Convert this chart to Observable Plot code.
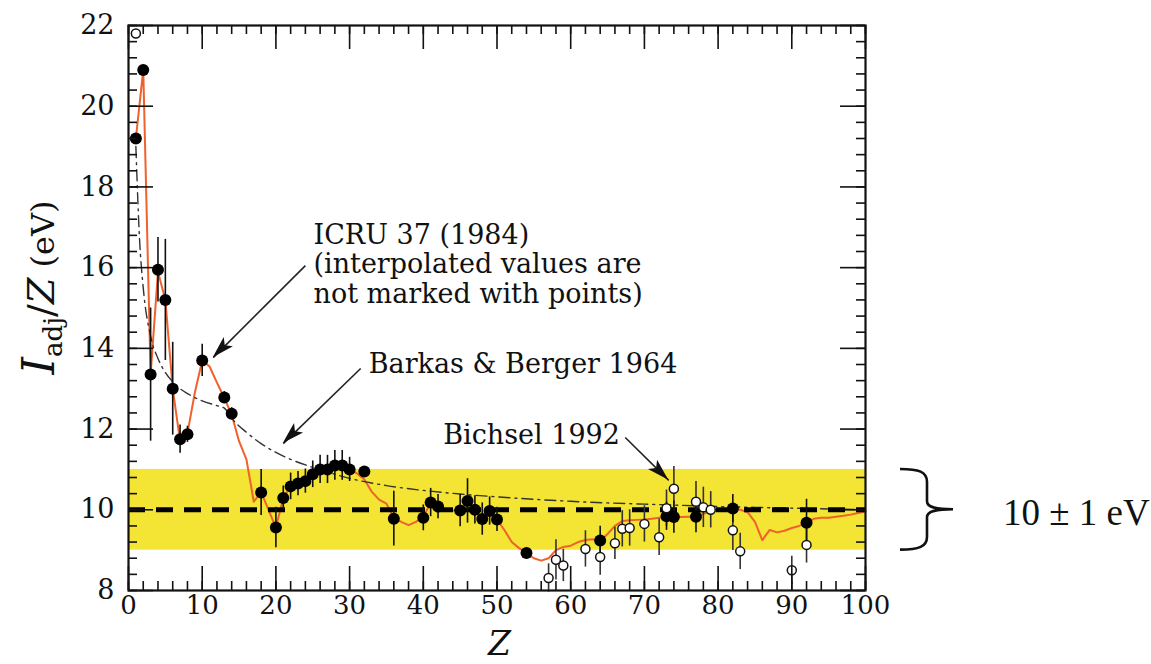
<!DOCTYPE html>
<html><head><meta charset="utf-8">
<script src="https://cdn.jsdelivr.net/npm/d3@7"></script>
<script src="https://cdn.jsdelivr.net/npm/@observablehq/plot@0.6"></script>
<style>html,body{margin:0;padding:0;background:#fff;} svg{display:block}</style>
</head><body><div id="chart"></div>
<script>
// ICRU 37 (1984) adopted I/Z curve
const icruZ = [1,2,3,4,5,6,7,8,9,10,11,12,13,14,15,16,17,18,19,20,21,22,23,24,25,26,27,28,29,30,31,32,33,34,35,36,37,38,39,40,41,42,43,44,45,46,47,48,49,50,51,52,53,54,55,56,57,58,59,60,61,62,63,64,65,66,67,68,69,70,71,72,73,74,75,76,77,78,79,80,81,82,83,84,85,86,87,88,89,90,91,92,93,94,95,96,97,98,99,100];
const icruI = [19.2,20.9,13.35,15.9,15.2,13.0,11.7,11.9,12.9,13.7,13.55,13.15,12.77,12.36,11.7,11.25,10.2,10.44,10.0,9.56,10.29,10.59,10.65,10.71,10.88,11.0,11.0,11.1,11.1,11.0,10.9,10.75,10.45,10.25,10.15,9.8,9.7,9.62,9.7,9.83,10.17,10.1,9.98,9.98,9.98,10.2,10.0,9.77,9.96,9.76,9.5,9.2,9.05,8.93,8.8,8.74,8.8,9.0,9.08,9.11,9.2,9.25,9.27,9.23,9.4,9.6,9.72,9.74,9.75,9.76,9.78,9.8,9.84,9.82,9.82,9.83,9.83,9.9,9.95,9.98,10.0,10.04,10.0,9.94,9.7,9.25,9.5,9.44,9.48,9.55,9.6,9.67,9.78,9.8,9.8,9.83,9.85,9.88,9.92,9.96];
// Barkas & Berger 1964 (dash-dot)
const bbZ = [1,1.5,2,3,4,5,6,7,8,10,12,13,14,16,18,20,22,25,28,30,35,40,45,50,55,60,65,70,75,80,85,90,95,100];
const bbI = [19.0,16.7,15.5,14.3,13.75,13.4,13.17,13.0,12.88,12.7,12.58,12.52,12.27,11.92,11.64,11.42,11.25,11.05,10.88,10.78,10.6,10.48,10.39,10.32,10.26,10.21,10.17,10.14,10.11,10.08,10.06,10.04,10.02,10.0];
// measured values (filled points)
const measZ =   [1,2,3,4,5,6,7,8,10,13,14,18,20,21,22,23,24,25,26,27,28,29,30,32,36,40,41,42,45,46,47,48,49,50,54,64,73,74,77,82,92];
const measI =   [19.2,20.9,13.35,15.95,15.2,13.0,11.75,11.87,13.7,12.78,12.38,10.43,9.56,10.29,10.58,10.65,10.71,10.88,11.0,11.0,11.1,11.1,11.0,10.95,9.78,9.8,10.18,10.08,9.98,10.22,10.0,9.77,9.97,9.76,8.93,9.24,9.84,9.82,9.83,10.03,9.68];
const measErr = [0,0,1.65,0.8,1.5,1.15,0.35,0.2,0.4,0.15,0.15,0.57,0.5,0.3,0.33,0.3,0.3,0.33,0.35,0.35,0.37,0.37,0.3,0,0.68,0.32,0.35,0.3,0.4,0.55,0.35,0.4,0.35,0.3,0,0.35,0.35,0.4,0.4,0.35,0.58];
// Bichsel 1992 (open points)
const bichZ =   [1,57,58,59,62,64,66,67,68,70,72,73,74,77,78,79,82,83,90,92];
const bichI =   [21.8,8.31,8.76,8.62,9.03,8.83,9.17,9.53,9.55,9.65,9.32,10.04,10.52,10.2,10.06,10.0,9.49,8.97,8.5,9.13];
const bichErr = [0,0.35,0.5,0.4,0.45,0.45,0.4,0.45,0.45,0.45,0.45,0.45,0.55,0.5,0.5,0.45,0.5,0.45,0.35,0.45];
// band 10 ± 1 eV
const bandLo = 9, bandHi = 11, bandMid = 10;
// ticks
const xTickLabels = [0,10,20,30,40,50,60,70,80,90,100];
const yTickLabels = [8,10,12,14,16,18,20,22];
const xMinor = d3.range(0, 101, 2);
const yMinor = d3.range(0, 36).map(k => 8 + 0.4 * k);
// annotations (data units)
const notes = [
  {z: 25.1, i: 17.12, text: "ICRU 37 (1984)\n(interpolated values are\nnot marked with points)"},
  {z: 32.6, i: 13.9, text: "Barkas & Berger 1964"},
  {z: 42.7, i: 12.16, text: "Bichsel 1992"}
];
const arrows = [
  {z1: 24.0, i1: 16.05, z2: 11.5, i2: 13.77},
  {z1: 31.5, i1: 13.5, z2: 21.0, i2: 11.64},
  {z1: 67.4, i1: 11.79, z2: 73.3, i2: 10.73}
];

const icru = icruZ.map((z, k) => ({z, i: icruI[k]}));
const bb = bbZ.map((z, k) => ({z, i: bbI[k]}));
const meas = measZ.map((z, k) => ({z, i: measI[k], e: measErr[k]}));
const bich = bichZ.map((z, k) => ({z, i: bichI[k], e: bichErr[k]}));

const W = 1151, H = 664, mL = 128, mR = 286, mT = 25, mB = 74;
const pw = W - mL - mR, ph = H - mT - mB;
const serif = "DejaVu Serif";

const plot = Plot.plot({
  width: W, height: H,
  marginLeft: mL, marginRight: mR, marginTop: mT, marginBottom: mB,
  x: {domain: [0, 100]},
  y: {domain: [8, 22]},
  style: {fontFamily: serif, fontSize: "26px", background: "#fff", color: "#111", overflow: "visible"},
  marks: [
    Plot.rect([{lo: bandLo, hi: bandHi}], {x1: () => 0, x2: () => 100, y1: "lo", y2: "hi", fill: "#f4e433"}),
    Plot.line(icru, {x: "z", y: "i", stroke: "#f0612c", strokeWidth: 2}),
    Plot.line(bb, {x: "z", y: "i", stroke: "#333", strokeWidth: 1.4, strokeDasharray: "11,5,2,5", curve: "monotone-x"}),
    Plot.ruleY([bandMid], {stroke: "#000", strokeWidth: 5, strokeDasharray: "17,11"}),
    Plot.ruleX(bich.filter(d => d.e > 0), {x: "z", y1: d => d.i - d.e, y2: d => d.i + d.e, stroke: "#333", strokeWidth: 1.6}),
    Plot.ruleX(meas.filter(d => d.e > 0), {x: "z", y1: d => d.i - d.e, y2: d => d.i + d.e, stroke: "#111", strokeWidth: 1.6}),
    Plot.dot(meas, {x: "z", y: "i", r: 6, fill: "#000"}),
    Plot.dot(bich, {x: "z", y: "i", r: 4.5, fill: "#fff", stroke: "#111", strokeWidth: 1.5}),
    // ticks, inward on all sides
    Plot.ruleX(xTickLabels, {insetTop: ph - 24, stroke: "#111", strokeWidth: 1.6}),
    Plot.ruleX(xTickLabels, {insetBottom: ph - 24, stroke: "#111", strokeWidth: 1.6}),
    Plot.ruleX(xMinor, {insetTop: ph - 9, stroke: "#111", strokeWidth: 1.6}),
    Plot.ruleX(xMinor, {insetBottom: ph - 9, stroke: "#111", strokeWidth: 1.6}),
    Plot.ruleY(yTickLabels, {insetRight: pw - 25, stroke: "#111", strokeWidth: 1.6}),
    Plot.ruleY(yTickLabels, {insetLeft: pw - 25, stroke: "#111", strokeWidth: 1.6}),
    Plot.ruleY(yMinor, {insetRight: pw - 9, stroke: "#111", strokeWidth: 1.6}),
    Plot.ruleY(yMinor, {insetLeft: pw - 9, stroke: "#111", strokeWidth: 1.6}),
    Plot.frame({stroke: "#111", strokeWidth: 2.2}),
    Plot.axisX(xTickLabels, {tickSize: 0, tickPadding: 5, fontSize: 26, fontFamily: serif, label: null}),
    Plot.axisY(yTickLabels, {tickSize: 0, tickPadding: 14, fontSize: 27, fontFamily: serif, label: null}),
    // annotations
    Plot.text(notes, {x: "z", y: "i", text: "text", textAnchor: "start", lineAnchor: "top", lineHeight: 1.1, fontSize: 27, fontFamily: serif, fill: "#111"}),
    Plot.link(arrows, {x1: "z1", y1: "i1", x2: "z2", y2: "i2", stroke: "#222", strokeWidth: 1.6})
  ]
});

document.getElementById("chart").appendChild(plot);

const svg = d3.select(plot);
const sx = plot.scale("x"), sy = plot.scale("y");

// filled arrowheads
for (const a of arrows) {
  const x1 = sx.apply(a.z1), y1 = sy.apply(a.i1), x2 = sx.apply(a.z2), y2 = sy.apply(a.i2);
  const dx = x2 - x1, dy = y2 - y1, L = Math.hypot(dx, dy);
  const ux = dx / L, uy = dy / L, len = 22, hw = 6.5;
  const bx = x2 - ux * len, by = y2 - uy * len;
  svg.append("path")
    .attr("d", `M${x2},${y2}L${bx - uy * hw},${by + ux * hw}L${bx + ux * 5},${by + uy * 5}L${bx + uy * hw},${by - ux * hw}Z`)
    .attr("fill", "#111");
}

// brace and "10 ± 1 eV"
const yt = sy.apply(bandHi), yb = sy.apply(bandLo), ym = sy.apply(bandMid);
const bx0 = 900, bx1 = 927, bx2 = 953;
svg.append("path")
  .attr("d", `M${bx0},${yt}C${bx0 + 19},${yt} ${bx1},${yt + 3} ${bx1},${yt + 13}L${bx1},${ym - 8}C${bx1},${ym - 2} ${bx1 + 8},${ym} ${bx2},${ym}C${bx1 + 8},${ym} ${bx1},${ym + 2} ${bx1},${ym + 8}L${bx1},${yb - 13}C${bx1},${yb - 3} ${bx0 + 19},${yb} ${bx0},${yb}`)
  .attr("fill", "none").attr("stroke", "#111").attr("stroke-width", 2.6);
svg.append("text")
  .attr("x", 1003).attr("y", ym + 16)
  .attr("text-anchor", "start")
  .attr("font-family", "Liberation Serif").attr("font-size", 37).attr("fill", "#111")
  .text("10 ± 1 eV");

// axis labels
const yl = svg.append("text")
  .attr("transform", `translate(54,${(mT + H - mB) / 2 - 20}) rotate(-90)`)
  .attr("text-anchor", "middle").attr("font-family", serif).attr("fill", "#111").attr("font-size", 32);
yl.append("tspan").attr("font-style", "italic").attr("font-size", 44).text("I");
yl.append("tspan").attr("font-size", 26).attr("dy", 8).text("adj");
yl.append("tspan").attr("dy", -8).attr("font-size", 38).text("/");
yl.append("tspan").attr("font-style", "italic").attr("font-size", 38).text("Z");
yl.append("tspan").text(" (eV)");

svg.append("text")
  .attr("x", (mL + W - mR) / 2 + 3).attr("y", 655)
  .attr("text-anchor", "middle").attr("font-family", serif).attr("font-style", "italic")
  .attr("font-size", 33).attr("fill", "#111").text("Z");
</script>
</body></html>
